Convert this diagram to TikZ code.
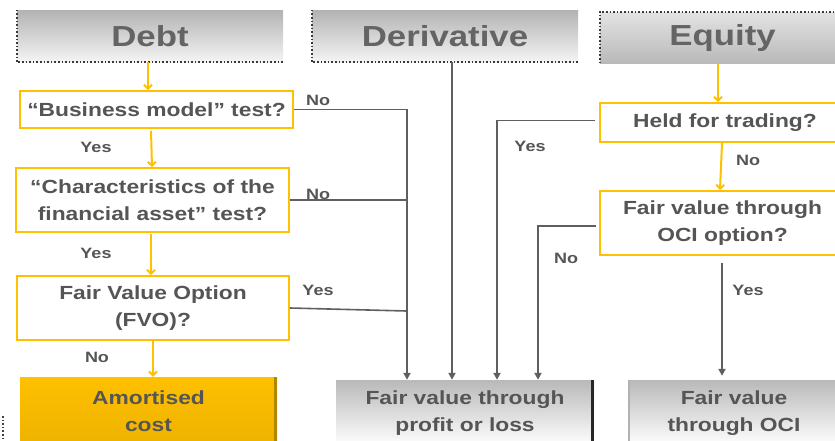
\documentclass[tikz,border=0pt]{standalone}
\usepackage{fontspec}
\setmainfont{Liberation Sans}[FakeStretch=1.2]
\usetikzlibrary{arrows.meta}
\definecolor{gold}{HTML}{FFC000}
\definecolor{txt}{HTML}{555555}
\definecolor{hdrtxt}{HTML}{646464}
\definecolor{wire}{HTML}{5F5F5F}
\tikzset{
  hdr/.style={minimum height=52pt, inner sep=0pt, text=hdrtxt,
    font=\fontsize{29}{32}\selectfont\bfseries},
  hdrdown/.style={hdr, top color=gray!60, bottom color=gray!8},
  hdrup/.style={hdr, top color=gray!22, middle color=gray!12, bottom color=gray!55},
  question/.style={draw=gold, line width=1.8pt, fill=white, inner sep=0pt,
    align=center, text=txt, font=\fontsize{19}{26.5}\selectfont\bfseries},
  outcome/.style={inner sep=0pt, align=center, text=txt,
    font=\fontsize{19}{26.5}\selectfont\bfseries},
  greyout/.style={outcome, top color=gray!55, middle color=gray!8, bottom color=white},
  goldout/.style={outcome, top color=gold, bottom color=gold!93!black},
  lbl/.style={text=txt, font=\fontsize{15}{17}\selectfont\bfseries, inner sep=0pt},
  goflow/.style={draw=gold, line width=2pt, -{Straight Barb[length=4pt,width=8pt]}},
  grflow/.style={draw=wire, line width=1.8pt, -{Triangle[length=7pt,width=7pt]}},
  grline/.style={draw=wire, line width=1.6pt},
  texture/.style={draw=gray!45!black, line width=1.6pt, dotted},
}
\begin{document}
\begin{tikzpicture}[x=1pt, y=-1pt]
\useasboundingbox (0,0) rectangle (835,440);
\clip (0,0) rectangle (835,440);

% column headers
\node[hdrdown, minimum width=266pt] (debt) at (150,36) {Debt};
\node[hdrdown, minimum width=266pt] (deriv) at (445,36) {Derivative};
\node[hdrup, minimum width=245pt, minimum height=51pt] (equity) at (722.5,37.5) {Equity};
\draw[texture] (debt.north west) -- (debt.south west) -- (debt.south east);
\draw[texture] (deriv.north west) -- (deriv.south west) -- (deriv.south east);
\draw[texture] (equity.south west) -- (equity.north west) -- (equity.north east);

% debt decision chain
\node[question, minimum width=273pt, minimum height=37pt] (biz) at (156.5,109.5)
  {“Business model” test?};
\node[question, minimum width=273pt, minimum height=64pt] (chr) at (152.5,200)
  {“Characteristics of the\\financial asset” test?};
\node[question, minimum width=272pt, minimum height=64pt] (fvo) at (153,308)
  {Fair Value Option\\(FVO)?};

% equity decision chain
\node[question, minimum width=250pt, minimum height=39pt] (hft) at (725,122.5)
  {Held for trading?};
\node[question, minimum width=245pt, minimum height=64pt] (ocio) at (722.5,223)
  {Fair value through\\OCI option?};

% outcomes
\node[goldout, minimum width=257pt, minimum height=68pt] (amort) at (148.5,411)
  {Amortised\\cost};
\node[greyout, minimum width=258pt, minimum height=66pt] (fvpl) at (465,413)
  {Fair value through\\profit or loss};
\node[greyout, minimum width=212pt, minimum height=66pt] (fvoci) at (734,413)
  {Fair value\\through OCI};
\draw[draw=gold!70!black, line width=3pt] ([xshift=-1.5pt]amort.north east) -- ([xshift=-1.5pt]amort.south east);
\draw[draw=gray!30!black, line width=3.5pt] ([xshift=-1.75pt]fvpl.north east) -- ([xshift=-1.75pt]fvpl.south east);
\draw[draw=gray!60, line width=2pt] ([xshift=1pt]fvoci.north west) -- ([xshift=1pt]fvoci.south west);
\draw[texture, gray!50!black, line width=1.2pt] (3,416) -- (3,440);

% vertical trunks into the profit-or-loss outcome
\coordinate (trunkA) at (407,0);
\coordinate (trunkB) at (452,0);
\coordinate (trunkC) at (497,0);
\coordinate (trunkD) at (538,0);
\coordinate (trunkE) at (722,0);

% debt flow
\draw[goflow] ([xshift=-2pt]debt.south) -- ([xshift=-2pt]debt.south |- biz.north);
\draw[goflow] ([xshift=-5.5pt,yshift=-2pt]biz.south) -- ([xshift=-4.5pt]biz.south |- chr.north);
\draw[goflow] ([xshift=-1.5pt,yshift=-1pt]chr.south) -- ([xshift=-1.5pt]chr.south |- fvo.north);
\draw[goflow] (fvo.south) -- (fvo.south |- amort.north);
\draw[grflow] (biz.east) -| (trunkA |- fvpl.north);
\draw[grline] (chr.east) -- (chr.east -| trunkA);
\draw[grline] (fvo.east) -- ([yshift=-3pt]fvo.east -| trunkA);

% derivative flow
\draw[grflow] (trunkB |- deriv.south) -- (trunkB |- fvpl.north);

% equity flow
\draw[goflow] ([xshift=-4.5pt]equity.south) -- ([xshift=-4.5pt]equity.south |- hft.north);
\draw[goflow] ([xshift=-3pt]hft.south) -- ([xshift=-5pt]hft.south |- ocio.north);
\draw[grflow] ([xshift=-4pt,yshift=2pt]hft.west) -| (trunkC |- fvpl.north);
\draw[grflow] ([xshift=-3pt,yshift=-3pt]ocio.west) -| (trunkD |- fvpl.north);
\draw[grflow] ([yshift=-7pt]trunkE |- ocio.south) -- ([yshift=4pt]trunkE |- fvoci.north);

% branch labels
\node[lbl] (no1) at (318,100) {No};
\node[lbl] (yes1) at (96,147) {Yes};
\node[lbl] (no2) at (318,194) {No};
\node[lbl] (yes2) at (96,253) {Yes};
\node[lbl] (yes3) at (318,290) {Yes};
\node[lbl] (no3) at (97,357) {No};
\node[lbl] (yes4) at (530,146) {Yes};
\node[lbl] (no4) at (748,160) {No};
\node[lbl] (no5) at (566,258) {No};
\node[lbl] (yes5) at (748,290) {Yes};
\end{tikzpicture}
\end{document}
